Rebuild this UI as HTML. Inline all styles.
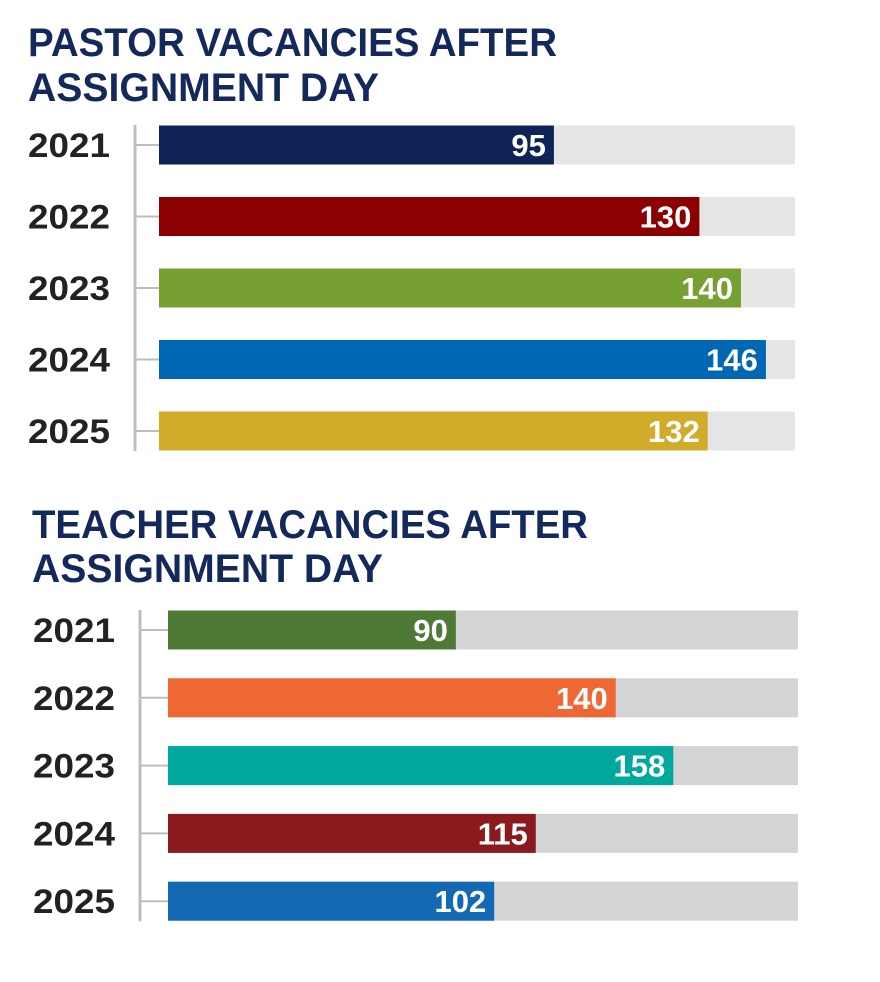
<!DOCTYPE html>
<html><head><meta charset="utf-8"><style>
html,body{margin:0;padding:0;background:#fff}
svg{display:block}
text{font-family:"Liberation Sans",Arial,sans-serif;font-weight:bold}
</style></head><body>
<svg id="chart" width="880" height="982" viewBox="0 0 880 982" xmlns="http://www.w3.org/2000/svg">
<text x="28" y="56" font-size="40" fill="#13285b" textLength="529" lengthAdjust="spacingAndGlyphs">PASTOR VACANCIES AFTER</text>
<text x="28" y="101" font-size="40" fill="#13285b" textLength="351" lengthAdjust="spacingAndGlyphs">ASSIGNMENT DAY</text>
<text x="32" y="538" font-size="40" fill="#13285b" textLength="556" lengthAdjust="spacingAndGlyphs">TEACHER VACANCIES AFTER</text>
<text x="32" y="582" font-size="40" fill="#13285b" textLength="351" lengthAdjust="spacingAndGlyphs">ASSIGNMENT DAY</text>
<g id="g1"></g>
<g id="g2"></g>
</svg>
<script>
const pastorYears = ["2021","2022","2023","2024","2025"];
const pastorValues = [95,130,140,146,132];
const pastorColors = ["#0f2357","#8b0000","#77a033","#0067b4","#d1ab2a"];
const teacherYears = ["2021","2022","2023","2024","2025"];
const teacherValues = [90,140,158,115,102];
const teacherColors = ["#4f7a35","#ef6833","#00a89e","#8a1a1e","#1469b4"];

const NS="http://www.w3.org/2000/svg";
function mk(tag,attrs,parent){const e=document.createElementNS(NS,tag);for(const k in attrs)e.setAttribute(k,attrs[k]);parent.appendChild(e);return e;}

function draw(g,name,years,values,colors,cfg){
  const x=v=>cfg.x0+v/cfg.max*cfg.w;
  const y=i=>cfg.y0+i*cfg.step;
  const ax=mk('line',{x1:cfg.ax,x2:cfg.ax,y1:y(0)-20,y2:y(years.length-1)+20,stroke:"#bdbdbd","stroke-width":3},g);
  
  
  years.forEach((yr,i)=>{
    const c=y(i);
    const t=mk('line',{x1:cfg.ax,x2:cfg.x0,y1:c,y2:c,stroke:"#bdbdbd","stroke-width":2},g);
    
    
    const bg=mk('rect',{x:cfg.x0,y:c-19.5,width:cfg.w,height:39,fill:cfg.bg},g);
    
    
    const b=mk('rect',{x:cfg.x0,y:c-19.5,width:x(values[i])-cfg.x0,height:39,fill:colors[i]},g);
    
    
    const l=mk('text',{x:cfg.lx,y:c+12,"font-size":34,fill:"#222",textLength:82,lengthAdjust:"spacingAndGlyphs"},g);
    l.textContent=yr;
    
    
    const v=mk('text',{x:x(values[i])-8,y:c+11,"font-size":31,fill:"#fff","text-anchor":"end"},g);
    v.textContent=values[i];
    
    
  });
}
draw(document.getElementById('g1'),'pastor',pastorYears,pastorValues,pastorColors,
  {x0:159,w:636,max:153,y0:145,step:71.5,ax:135,lx:28,bg:"#e6e6e6"});
draw(document.getElementById('g2'),'teacher',teacherYears,teacherValues,teacherColors,
  {x0:168,w:630,max:197,y0:630,step:67.8,ax:140,lx:33,bg:"#d3d4d5"});
</script>
</body></html>
